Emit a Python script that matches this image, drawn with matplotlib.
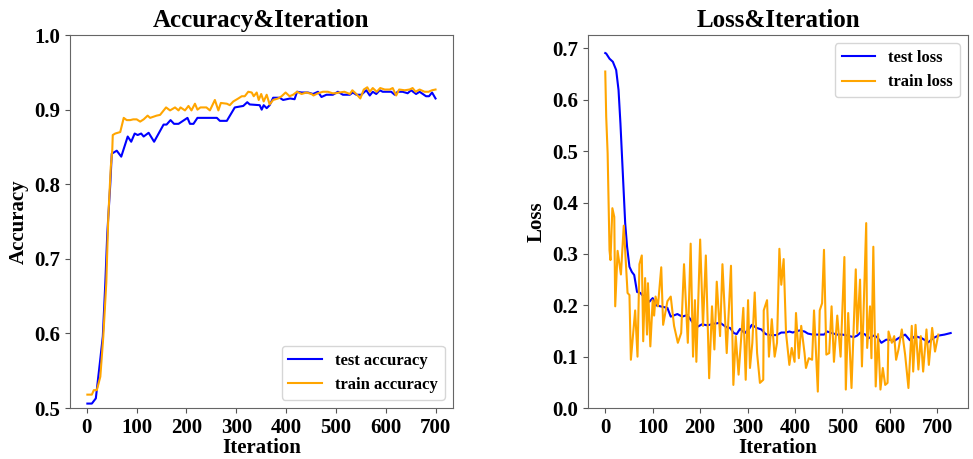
import matplotlib
matplotlib.use('Agg')
from matplotlib import pyplot as plt

plt.rcParams['font.family'] = ['Liberation Serif', 'DejaVu Serif']
plt.rcParams['font.weight'] = 'bold'

# accuracy curves
test_acc_x = [1, 10, 18, 26, 32, 37, 41, 47, 50, 60, 69, 82, 89, 96, 102, 109, 114, 124, 135,
              154, 160, 168, 175, 184, 202, 207, 214, 222, 261, 267, 281, 297, 314, 322, 327,
              347, 351, 355, 361, 367, 374, 387, 394, 408, 417, 422, 431, 444, 454, 464, 471,
              481, 494, 504, 514, 528, 534, 541, 551, 561, 568, 574, 581, 588, 594, 604, 611,
              618, 624, 634, 644, 651, 661, 668, 681, 687, 693, 700]
test_acc = [0.506, 0.506, 0.513, 0.56, 0.596, 0.667, 0.734, 0.80, 0.841, 0.845, 0.837, 0.864,
            0.857, 0.868, 0.866, 0.868, 0.864, 0.869, 0.857, 0.880, 0.880, 0.886, 0.881, 0.881,
            0.889, 0.881, 0.881, 0.889, 0.889, 0.885, 0.885, 0.903, 0.905, 0.910, 0.907, 0.906,
            0.900, 0.906, 0.902, 0.906, 0.916, 0.916, 0.913, 0.915, 0.914, 0.924, 0.923, 0.923,
            0.921, 0.924, 0.917, 0.920, 0.920, 0.924, 0.920, 0.920, 0.923, 0.920, 0.920, 0.926,
            0.919, 0.924, 0.921, 0.926, 0.924, 0.924, 0.924, 0.920, 0.924, 0.924, 0.922, 0.926,
            0.921, 0.924, 0.918, 0.918, 0.923, 0.915]

train_acc_x = [1, 10, 14, 20, 27, 33, 39, 43, 48, 51, 52, 57, 67, 74, 80, 87, 93, 100, 107, 114,
               122, 127, 140, 147, 159, 167, 177, 184, 188, 197, 204, 210, 217, 222, 228, 240,
               247, 257, 264, 269, 281, 287, 294, 304, 311, 317, 324, 331, 335, 341, 345, 350,
               355, 361, 367, 374, 384, 391, 399, 407, 414, 422, 431, 441, 451, 455, 464, 474,
               484, 493, 500, 507, 517, 528, 533, 541, 549, 556, 563, 568, 574, 582, 589, 598,
               608, 614, 621, 627, 638, 648, 654, 660, 668, 678, 686, 693, 700]
train_acc = [0.518, 0.518, 0.524, 0.524, 0.542, 0.596, 0.668, 0.756, 0.823, 0.846, 0.866, 0.868,
             0.870, 0.889, 0.886, 0.886, 0.887, 0.887, 0.884, 0.887, 0.892, 0.889, 0.892, 0.893,
             0.903, 0.899, 0.903, 0.899, 0.903, 0.899, 0.905, 0.899, 0.908, 0.900, 0.903, 0.903,
             0.899, 0.913, 0.899, 0.909, 0.908, 0.906, 0.911, 0.915, 0.918, 0.918, 0.924, 0.923,
             0.918, 0.923, 0.913, 0.921, 0.911, 0.920, 0.907, 0.913, 0.915, 0.918, 0.923, 0.918,
             0.920, 0.924, 0.921, 0.923, 0.921, 0.919, 0.922, 0.924, 0.924, 0.922, 0.922, 0.923,
             0.924, 0.921, 0.926, 0.921, 0.915, 0.927, 0.930, 0.924, 0.929, 0.924, 0.929, 0.927,
             0.927, 0.929, 0.919, 0.927, 0.926, 0.927, 0.929, 0.924, 0.927, 0.924, 0.924, 0.926,
             0.927]

# loss curves
test_loss_x = [0, 2, 9, 16, 23, 28, 32, 37, 42, 46, 51, 56, 61, 67, 74, 82, 93, 100, 107, 121,
               131, 138, 152, 162, 173, 183, 194, 204, 215, 229, 242, 256, 263, 271, 277, 284,
               294, 303, 309, 319, 329, 338, 347, 361, 371, 381, 388, 395, 409, 420, 427, 437,
               451, 461, 468, 477, 489, 500, 510, 524, 531, 538, 548, 555, 566, 573, 582, 592,
               601, 608, 618, 632, 642, 653, 667, 681, 691, 702, 715, 728]
test_loss = [0.691, 0.690, 0.680, 0.674, 0.658, 0.619, 0.554, 0.457, 0.36, 0.314, 0.275, 0.265,
             0.259, 0.226, 0.224, 0.216, 0.207, 0.214, 0.200, 0.197, 0.195, 0.178, 0.183, 0.178,
             0.181, 0.168, 0.158, 0.163, 0.161, 0.164, 0.166, 0.157, 0.156, 0.146, 0.144, 0.154,
             0.146, 0.154, 0.162, 0.156, 0.153, 0.144, 0.142, 0.142, 0.147, 0.147, 0.149, 0.147,
             0.151, 0.149, 0.145, 0.143, 0.143, 0.143, 0.149, 0.146, 0.143, 0.143, 0.141, 0.138,
             0.141, 0.147, 0.143, 0.136, 0.141, 0.138, 0.127, 0.133, 0.133, 0.130, 0.136, 0.143,
             0.132, 0.140, 0.136, 0.128, 0.136, 0.141, 0.143, 0.146]

train_loss_x = [0, 2, 5, 6, 9, 11, 15, 19, 21, 26, 33, 39, 47, 51, 54, 63, 68, 72, 77, 80, 84,
                88, 90, 95, 100, 103, 106, 111, 118, 122, 131, 138, 145, 153, 160, 166, 174,
                180, 185, 189, 192, 200, 206, 212, 219, 225, 230, 235, 242, 247, 256, 265, 270,
                275, 281, 291, 296, 301, 305, 310, 315, 320, 326, 333, 334, 341, 345, 351, 357,
                362, 367, 371, 376, 381, 388, 393, 399, 402, 408, 413, 420, 423, 429, 436, 440,
                448, 452, 457, 461, 466, 472, 477, 482, 489, 496, 504, 507, 512, 519, 528, 531,
                537, 541, 550, 552, 558, 561, 565, 570, 575, 580, 585, 590, 595, 597, 604, 609,
                613, 618, 625, 632, 639, 646, 649, 654, 660, 665, 670, 677, 682, 689, 695, 702]
train_loss = [0.655, 0.567, 0.496, 0.45, 0.307, 0.288, 0.389, 0.372, 0.198, 0.306, 0.26, 0.355,
              0.224, 0.22, 0.094, 0.19, 0.10, 0.28, 0.297, 0.13, 0.253, 0.143, 0.243, 0.12,
              0.21, 0.18, 0.217, 0.198, 0.274, 0.162, 0.208, 0.217, 0.16, 0.127, 0.146, 0.28,
              0.127, 0.32, 0.10, 0.21, 0.09, 0.328, 0.16, 0.297, 0.058, 0.198, 0.114, 0.246,
              0.14, 0.28, 0.107, 0.277, 0.045, 0.14, 0.065, 0.195, 0.055, 0.21, 0.078, 0.127,
              0.225, 0.107, 0.049, 0.055, 0.19, 0.21, 0.10, 0.173, 0.10, 0.127, 0.31, 0.24,
              0.29, 0.146, 0.084, 0.117, 0.09, 0.185, 0.097, 0.16, 0.107, 0.078, 0.097, 0.094,
              0.19, 0.032, 0.19, 0.204, 0.308, 0.104, 0.107, 0.198, 0.09, 0.18, 0.10, 0.294,
              0.036, 0.185, 0.039, 0.27, 0.146, 0.25, 0.081, 0.36, 0.117, 0.198, 0.097, 0.314,
              0.042, 0.144, 0.036, 0.078, 0.045, 0.049, 0.149, 0.127, 0.14, 0.094, 0.114, 0.153,
              0.104, 0.039, 0.16, 0.071, 0.162, 0.075, 0.14, 0.071, 0.153, 0.084, 0.156, 0.11,
              0.143]

fig = plt.figure(figsize=(9.73, 4.59), dpi=100)
ax1 = fig.add_axes([0.0719, 0.111, 0.3936, 0.8126])
ax2 = fig.add_axes([0.6043, 0.111, 0.3905, 0.8126])


def style_axes(ax):
    for sp in ax.spines.values():
        sp.set_color('#666666')
    ax.tick_params(labelsize=15, colors='#555555', labelcolor='black')
    for lbl in ax.get_xticklabels() + ax.get_yticklabels():
        lbl.set_fontweight('bold')


ax1.plot(test_acc_x, test_acc, color='blue', linewidth=1.5, label='test accuracy')
ax1.plot(train_acc_x, train_acc, color='orange', linewidth=1.5, label='train accuracy')
ax1.set_ylim(0.5, 1.0)
ax1.set_xticks([0, 100, 200, 300, 400, 500, 600, 700])
ax1.set_yticks([0.5, 0.6, 0.7, 0.8, 0.9, 1.0])
ax1.set_title('Accuracy&Iteration', fontsize=18, fontweight='bold')
ax1.set_xlabel('Iteration', fontsize=15, fontweight='bold', labelpad=0)
ax1.set_ylabel('Accuracy', fontsize=15, fontweight='bold')
ax1.legend(loc='lower right', fontsize=12)
style_axes(ax1)

ax2.plot(test_loss_x, test_loss, color='blue', linewidth=1.5, label='test loss')
ax2.plot(train_loss_x, train_loss, color='orange', linewidth=1.5, label='train loss')
ax2.set_ylim(0, 0.726)
ax2.set_xticks([0, 100, 200, 300, 400, 500, 600, 700])
ax2.set_title('Loss&Iteration', fontsize=18, fontweight='bold')
ax2.set_xlabel('Iteration', fontsize=15, fontweight='bold', labelpad=0)
ax2.set_ylabel('Loss', fontsize=15, fontweight='bold')
ax2.legend(loc='upper right', fontsize=12)
style_axes(ax2)

fig.savefig('out.png', dpi=100)
